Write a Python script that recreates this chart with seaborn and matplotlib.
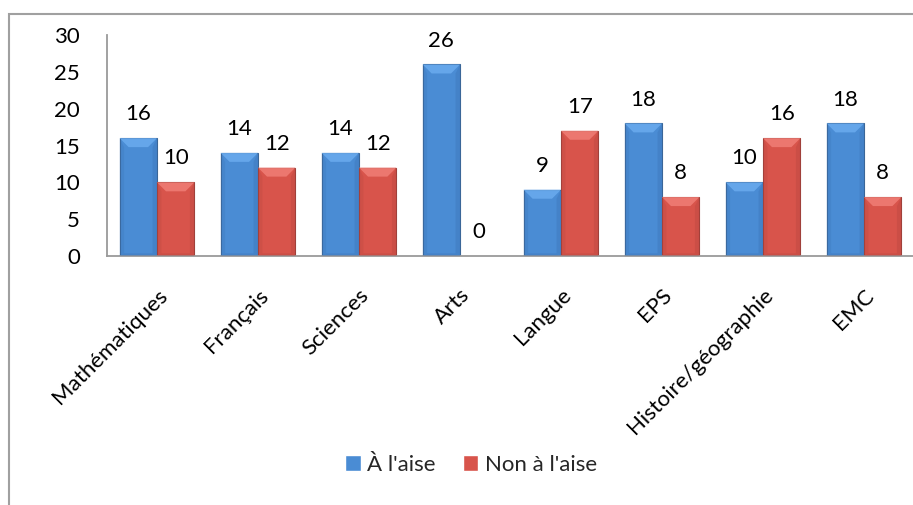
import matplotlib
matplotlib.use("Agg")
import matplotlib.pyplot as plt
from matplotlib.patches import Rectangle, Polygon
import numpy as np
import pandas as pd
import seaborn as sns

# Survey results per subject
matieres = ["Mathématiques", "Français", "Sciences", "Arts", "Langue",
            "EPS", "Histoire/géographie", "EMC"]
a_l_aise = [16, 14, 14, 26, 9, 18, 10, 18]
non_a_l_aise = [10, 12, 12, 0, 17, 8, 16, 8]
series = ["À l'aise", "Non à l'aise"]
y_ticks = [0, 5, 10, 15, 20, 25, 30]

df = pd.DataFrame({
    "matiere": matieres * 2,
    "effectif": a_l_aise + non_a_l_aise,
    "serie": [series[0]] * len(matieres) + [series[1]] * len(matieres),
})

sns.set_theme(style="white")
plt.rcParams["font.family"] = ["Lato", "DejaVu Sans"]
FS = 16
plt.rcParams["font.size"] = FS

fill = {series[0]: "#4A8CD4", series[1]: "#D8544B"}
light = {series[0]: "#6AABEE", series[1]: "#F07E76"}
dark = {series[0]: "#3A72B4", series[1]: "#B4453F"}
edge = {series[0]: "#3A6698", series[1]: "#9E403A"}

W, H = 913, 505
fig = plt.figure(figsize=(W / 100, H / 100), dpi=100)
ax_l, ax_r, ax_b, ax_t = 106.5, 914.5, 256, 35
ax = fig.add_axes([ax_l / W, (H - ax_b) / H, (ax_r - ax_l) / W, (ax_b - ax_t) / H])

sns.barplot(data=df, x="matiere", y="effectif", hue="serie", palette=fill,
            width=0.74, gap=0, ax=ax, legend=True, saturation=1)
ax.set_xlim(-0.5, len(matieres) - 0.5)
ax.set_ylim(0, 30)
ax.set_yticks(y_ticks)
ax.set_xlabel("")
ax.set_ylabel("")

# Bevel shading on every bar
px_x = (ax_r - ax_l) / len(matieres)
px_y = (ax_b - ax_t) / 30
bev = 9
for cont, name in zip(ax.containers, series):
    for bar in cont:
        x0, w, h = bar.get_x(), bar.get_width(), bar.get_height()
        bar.set_edgecolor(edge[name])
        bar.set_linewidth(0.8)
        if h <= 0:
            bar.set_visible(False)
            continue
        bx, by = bev / px_x, min(bev / px_y, h / 2)
        ax.add_patch(Polygon([(x0, h), (x0 + w, h), (x0 + w - bx, h - by), (x0 + bx, h - by)],
                             closed=True, facecolor=light[name], edgecolor="none", alpha=0.85, zorder=3))
        ax.add_patch(Polygon([(x0 + w, h), (x0 + w, 0), (x0 + w - bx * 0.5, by * 0.3), (x0 + w - bx * 0.5, h - by)],
                             closed=True, facecolor=dark[name], edgecolor="none", alpha=0.35, zorder=3))
        ax.add_patch(Polygon([(x0, h), (x0, 0), (x0 + bx * 0.5, by * 0.3), (x0 + bx * 0.5, h - by)],
                             closed=True, facecolor=dark[name], edgecolor="none", alpha=0.25, zorder=3))
        ax.add_patch(Polygon([(x0, 0), (x0 + w, 0), (x0 + w - bx * 0.5, by * 0.3), (x0 + bx * 0.5, by * 0.3)],
                             closed=True, facecolor=dark[name], edgecolor="none", alpha=0.35, zorder=3))
    ax.bar_label(cont, labels=[f"{v:g}" for v in cont.datavalues], padding=10,
                 fontsize=FS, color="black")

for s in ["top", "right"]:
    ax.spines[s].set_visible(False)
for s in ["left", "bottom"]:
    ax.spines[s].set_color("#9A9A9A")
    ax.spines[s].set_linewidth(1.3)
ax.tick_params(axis="y", length=0, pad=19, labelsize=FS, colors="black")
ax.tick_params(axis="x", length=0, pad=21, labelsize=FS, colors="black")
for lab in ax.get_xticklabels():
    lab.set_rotation(45)
    lab.set_ha("right")
    lab.set_va("top")
    lab.set_rotation_mode("anchor")

handles, labels = ax.get_legend_handles_labels()
ax.legend(handles, labels, loc="center", bbox_to_anchor=(471 / W, (H - 465) / H),
          bbox_transform=fig.transFigure, ncol=2, frameon=False, fontsize=FS,
          handlelength=0.7, handleheight=0.7, handletextpad=0.3, columnspacing=1.2)

# Chart area border
fig.add_artist(Rectangle((9 / W, -0.1), 1.2, (H - 14) / H + 0.1, transform=fig.transFigure,
                         fill=False, edgecolor="#A0A0A0", linewidth=1.5, clip_on=False))

fig.savefig("out.png", dpi=100)
